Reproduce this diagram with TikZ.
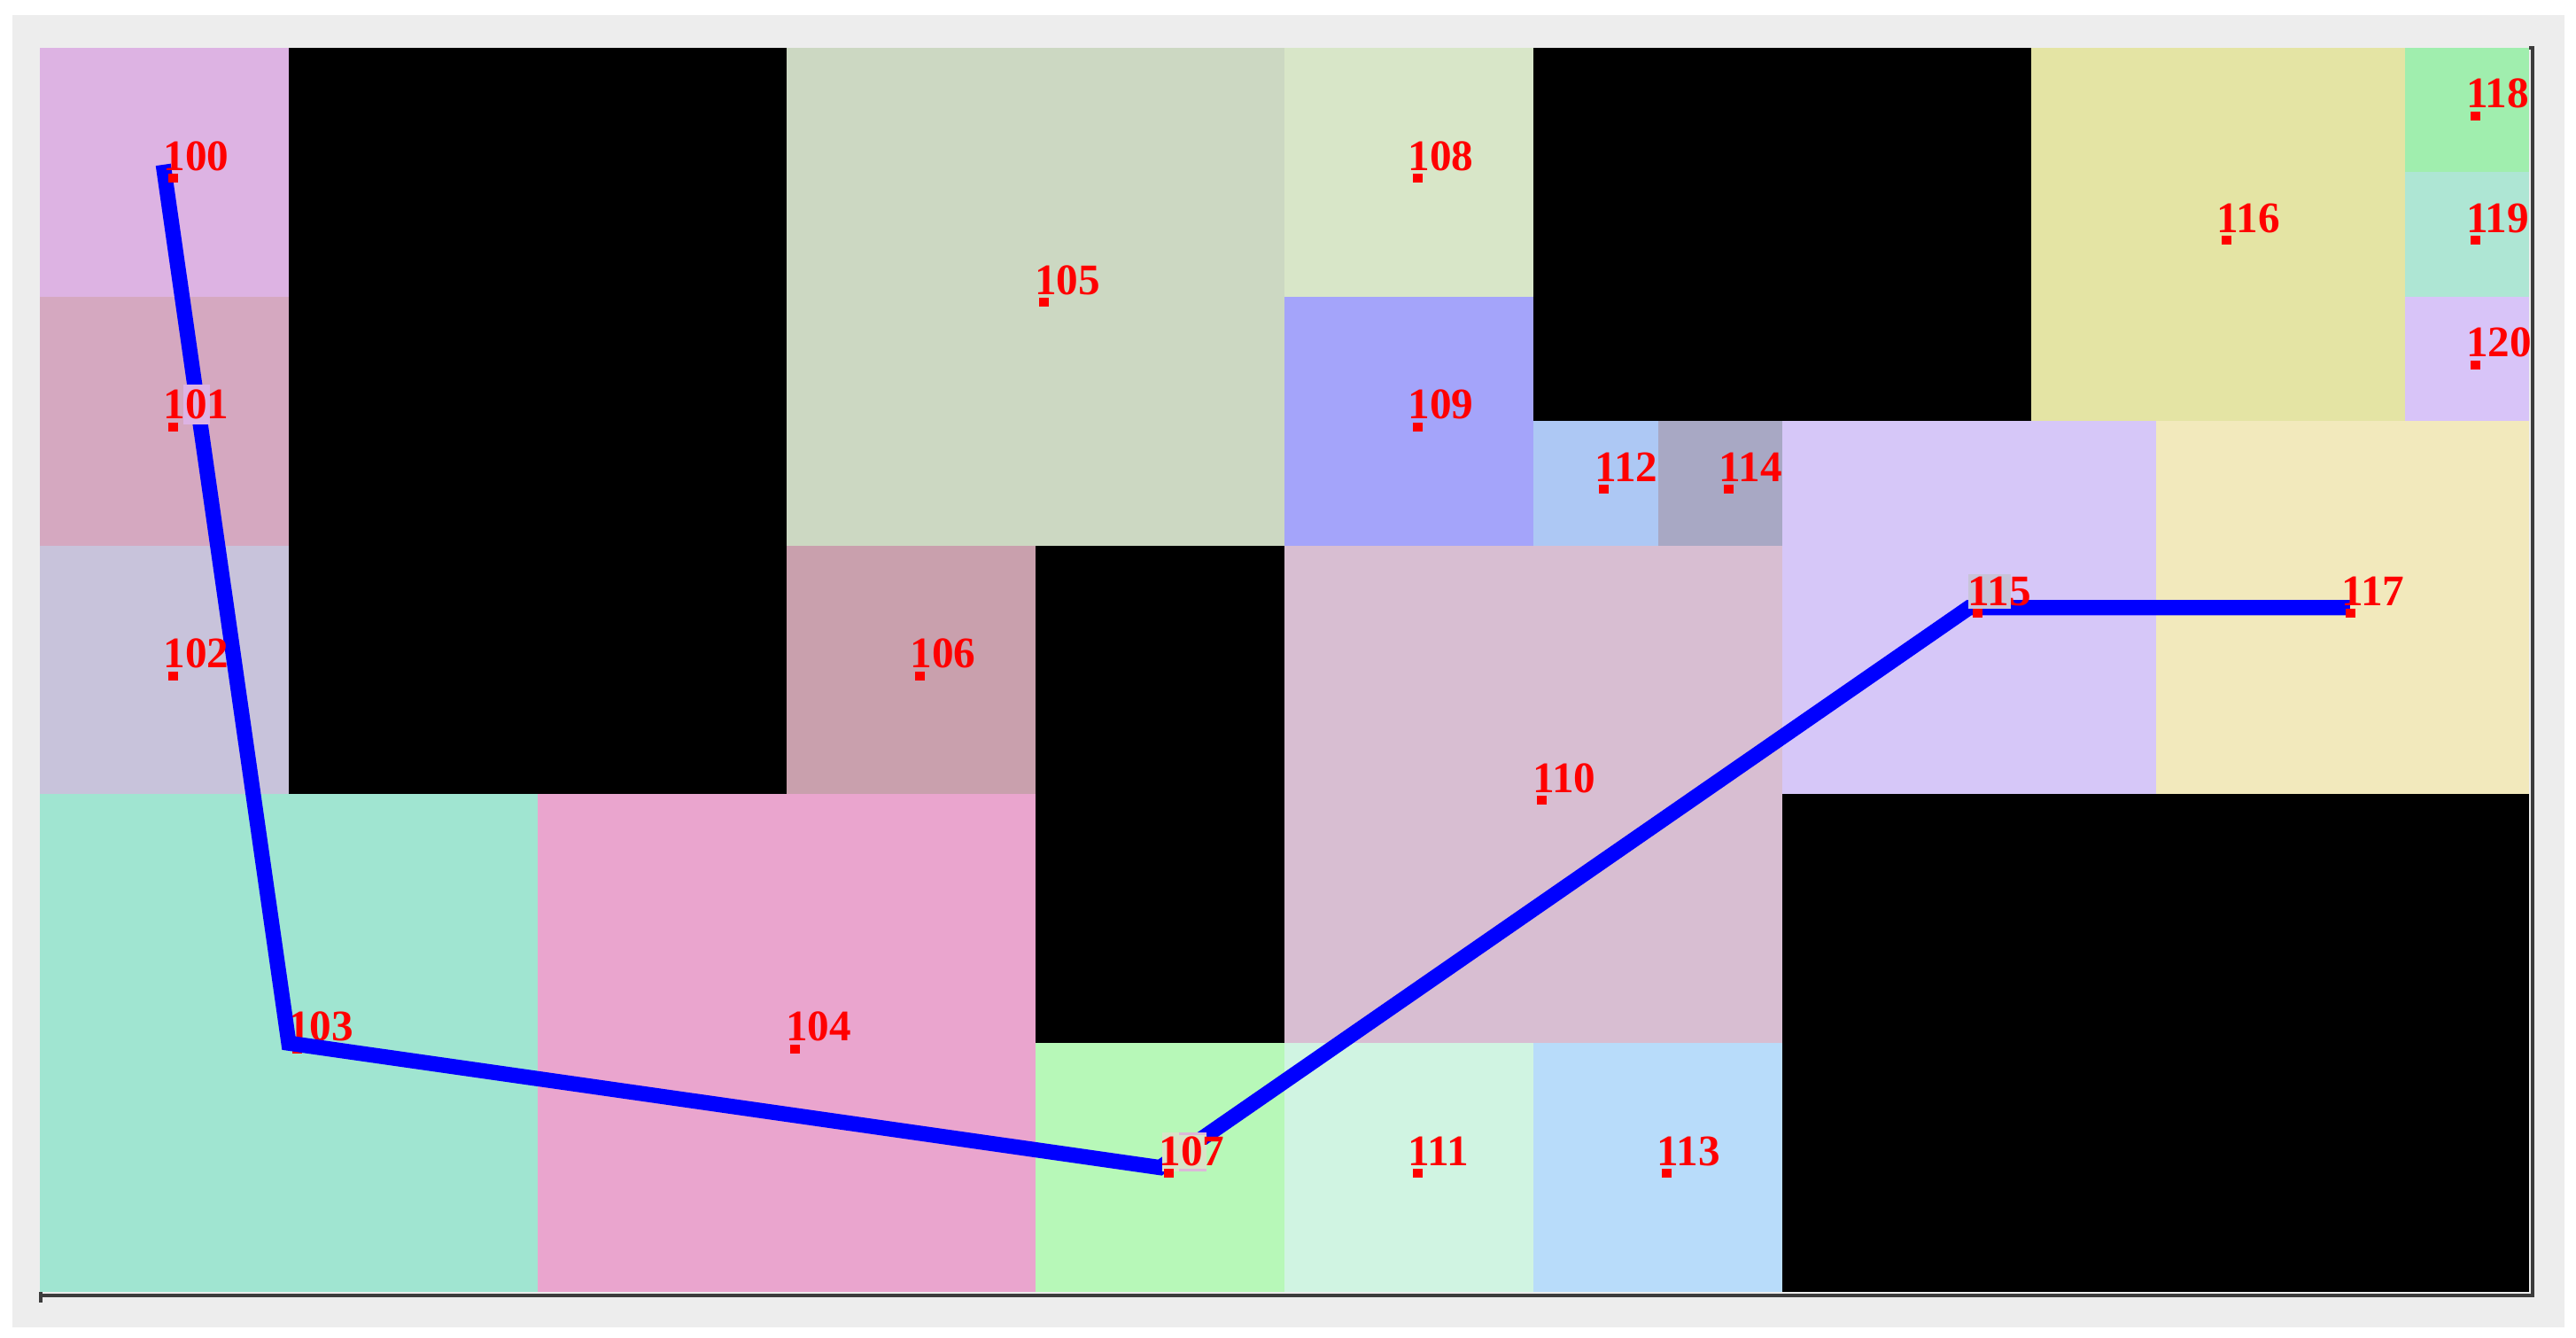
\documentclass[tikz,border=0pt]{standalone}
\usepackage{fontspec}
\setmainfont{Liberation Serif}
\definecolor{bggray}{HTML}{EDEDED}
\definecolor{axisgray}{HTML}{3C3C3C}
\definecolor{c100}{HTML}{DDB3E3}
\definecolor{c101}{HTML}{D5A8C0}
\definecolor{c102}{HTML}{C8C3DB}
\definecolor{c103}{HTML}{A0E5D1}
\definecolor{c104}{HTML}{EAA5CE}
\definecolor{c105}{HTML}{CCD8C2}
\definecolor{c106}{HTML}{C9A0AD}
\definecolor{c107}{HTML}{B7F8B8}
\definecolor{c108}{HTML}{D8E6C8}
\definecolor{c109}{HTML}{A4A4FA}
\definecolor{c110}{HTML}{D8BED2}
\definecolor{c111}{HTML}{D0F4E2}
\definecolor{c112}{HTML}{ADC8F4}
\definecolor{c113}{HTML}{B8DCFA}
\definecolor{c114}{HTML}{A8A8C4}
\definecolor{c115}{HTML}{D6C7F8}
\definecolor{c116}{HTML}{E4E4A4}
\definecolor{c117}{HTML}{F2E9BC}
\definecolor{c118}{HTML}{A0EEAE}
\definecolor{c119}{HTML}{AEE6D4}
\definecolor{c120}{HTML}{D8C4F8}
\definecolor{boxgray}{HTML}{C8C4D9}
\definecolor{boxgreen}{HTML}{D8E4C8}
\definecolor{boxpink}{HTML}{DCB8D8}
\begin{document}
\begin{tikzpicture}[x=35.125pt,y=-35.1pt,
  lbl/.style={anchor=base west,inner sep=0pt,text=red,font=\bfseries\fontsize{12.3}{12.3}\selectfont,xshift=-0.4pt,yshift=0.6pt},
  route/.style={draw=blue,line width=4.3pt,line cap=rect,line join=miter},
  axisline/.style={draw=axisgray,line width=0.8pt},
  markfill/.style={fill=red}]
\useasboundingbox (-0.3203,-0.3846) rectangle (20.377,10.370);
\fill[white] (-0.3203,-0.3846) rectangle (20.377,10.370);
\fill[bggray] (-0.2206,-0.2635) rectangle (20.285,10.285);
% cells
\fill[c100] (0,0) rectangle (2,2);
\fill[c101] (0,2) rectangle (2,4);
\fill[c102] (0,4) rectangle (2,6);
\fill[c103] (0,6) rectangle (4,10);
\fill[c104] (4,6) rectangle (8,10);
\fill[black] (2,0) rectangle (6,6);
\fill[c105] (6,0) rectangle (10,4);
\fill[c106] (6,4) rectangle (8,6);
\fill[black] (8,4) rectangle (10,8);
\fill[c107] (8,8) rectangle (10,10);
\fill[c108] (10,0) rectangle (12,2);
\fill[c109] (10,2) rectangle (12,4);
\fill[black] (12,0) rectangle (16,3);
\fill[c112] (12,3) rectangle (13,4);
\fill[c114] (13,3) rectangle (14,4);
\fill[c110] (10,4) rectangle (14,8);
\fill[c111] (10,8) rectangle (12,10);
\fill[c113] (12,8) rectangle (14,10);
\fill[c115] (14,3) rectangle (17,6);
\fill[c116] (16,0) rectangle (19,3);
\fill[c117] (17,3) rectangle (20,6);
\fill[c118] (19,0) rectangle (20,1);
\fill[c119] (19,1) rectangle (20,2);
\fill[c120] (19,2) rectangle (20,3);
\fill[black] (14,6) rectangle (20,10);
% axis lines
\draw[axisline] (20,0) -- (20.028,0) -- (20.028,10.028) -- (0.007,10.028);
\draw[axisline] (0.007,10.0) -- (0.007,10.085);
% centres
\coordinate (p100) at (1,1);
\coordinate (p101) at (1,3);
\coordinate (p102) at (1,5);
\coordinate (p103) at (2,8);
\coordinate (p104) at (6,8);
\coordinate (p105) at (8,2);
\coordinate (p106) at (7,5);
\coordinate (p107) at (9,9);
\coordinate (p108) at (11,1);
\coordinate (p109) at (11,3);
\coordinate (p110) at (12,6);
\coordinate (p111) at (11,9);
\coordinate (p112) at (12.5,3.5);
\coordinate (p113) at (13,9);
\coordinate (p114) at (13.5,3.5);
\coordinate (p115) at (15.5,4.5);
\coordinate (p116) at (17.5,1.5);
\coordinate (p117) at (18.5,4.5);
\coordinate (p118) at (19.5,0.5);
\coordinate (p119) at (19.5,1.5);
\coordinate (p120) at (19.5,2.5);
% label of 103 lies under the route
\fill[markfill] (p103) ++(1pt,-0.4pt) rectangle ++(2.75pt,-2.5pt);
\node[lbl] (t103) at (p103) {103};
% route
\draw[route] (p100) -- (p103) -- (p107) -- (p115) -- (p117);
% redraw patches
\fill[c100] (1.153,2.707) rectangle (1.367,3.027);
\fill[boxgreen] (9.018,8.718) rectangle (9.374,9.031);
\fill[boxpink] (9.153,8.718) rectangle (9.374,8.740);
\fill[boxpink] (9.153,9.012) rectangle (9.374,9.031);
\fill[boxgray] (15.495,4.231) rectangle (15.836,4.509);
% markers and labels
\foreach \n in {100,101,102,104,105,106,107,108,109,110,111,112,113,114,115,116,117,118,119,120}{
  \fill[markfill] (p\n) ++(1pt,-0.4pt) rectangle ++(2.75pt,-2.5pt);
  \node[lbl] (t\n) at (p\n) {\n};
}
\end{tikzpicture}
\end{document}
